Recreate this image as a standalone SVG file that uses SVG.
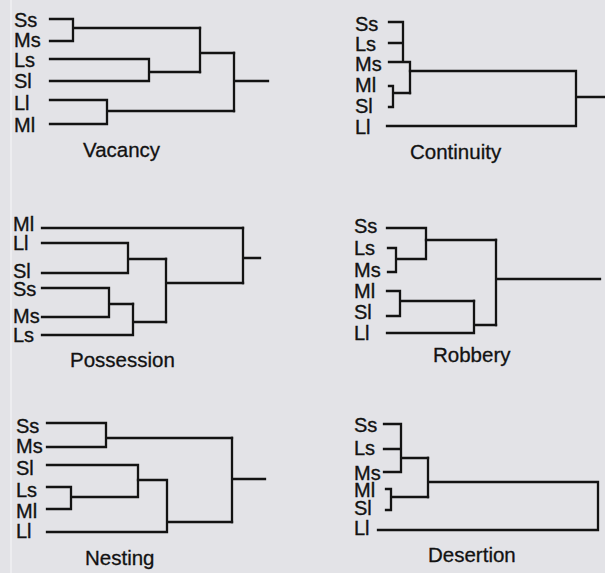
<svg xmlns="http://www.w3.org/2000/svg" width="605" height="573" viewBox="0 0 605 573">
  <style>
    .lbl { font-family: "Liberation Sans", Arial, sans-serif; font-size: 20px; fill: #121212; stroke: #121212; stroke-width: 0.35; }
    .ttl { font-family: "Liberation Sans", Arial, sans-serif; font-size: 20.5px; fill: #121212; stroke: #121212; stroke-width: 0.3; }
    .br { fill: none; stroke: #131313; stroke-width: 2.3; stroke-linecap: square; stroke-linejoin: miter; }
  </style>
  <rect width="605" height="573" fill="#e3e3e7"/>
  <line x1="11" y1="0" x2="11" y2="573" stroke="#f1f1f3" stroke-width="1.5"/>

  <!-- Vacancy -->
  <g id="vacancy">
    <g class="labels">
      <text class="lbl" x="14" y="27">Ss</text>
      <text class="lbl" x="14" y="47">Ms</text>
      <text class="lbl" x="14" y="67">Ls</text>
      <text class="lbl" x="14" y="88">Sl</text>
      <text class="lbl" x="14" y="110">Ll</text>
      <text class="lbl" x="14" y="132">Ml</text>
    </g>
    <g class="connectors">
      <path class="br" d="M50,19 H73 V41 H50 M73,28 H200"/>
      <path class="br" d="M50,59 H149 V81 H50 M149,72 H200"/>
      <path class="br" d="M200,28 V72 M200,53 H234"/>
      <path class="br" d="M50,100 H107 V124 H50 M107,111 H234"/>
      <path class="br" d="M234,53 V111 M234,81 H268"/>
    </g>
    <text class="ttl" x="83" y="157">Vacancy</text>
  </g>

  <!-- Continuity -->
  <g id="continuity">
    <g class="labels">
      <text class="lbl" x="355" y="31">Ss</text>
      <text class="lbl" x="355" y="51">Ls</text>
      <text class="lbl" x="355" y="71">Ms</text>
      <text class="lbl" x="355" y="92">Ml</text>
      <text class="lbl" x="355" y="113">Sl</text>
      <text class="lbl" x="355" y="134">Ll</text>
    </g>
    <g class="connectors">
      <path class="br" d="M389,22 H403 V62 M389,43 H403 M389,62 H410 V93"/>
      <path class="br" d="M389,86 H393 V107 H389 M393,93 H410"/>
      <path class="br" d="M410,71 H576 M387,126 H576 M576,71 V126 M576,97 H605"/>
    </g>
    <text class="ttl" x="410" y="159">Continuity</text>
  </g>

  <!-- Possession -->
  <g id="possession">
    <g class="labels">
      <text class="lbl" x="13" y="231">Ml</text>
      <text class="lbl" x="13" y="250">Ll</text>
      <text class="lbl" x="13" y="278">Sl</text>
      <text class="lbl" x="13" y="296">Ss</text>
      <text class="lbl" x="13" y="323">Ms</text>
      <text class="lbl" x="13" y="342">Ls</text>
    </g>
    <g class="connectors">
      <path class="br" d="M42,228 H243"/>
      <path class="br" d="M42,243 H128 V273 H42 M128,259 H166"/>
      <path class="br" d="M42,288 H109 V317 H42 M109,304 H133"/>
      <path class="br" d="M42,335 H133 V304 M133,322 H166"/>
      <path class="br" d="M166,259 V322 M166,283 H243"/>
      <path class="br" d="M243,228 V283 M243,258 H260"/>
    </g>
    <text class="ttl" x="70" y="367">Possession</text>
  </g>

  <!-- Robbery -->
  <g id="robbery">
    <g class="labels">
      <text class="lbl" x="354" y="233">Ss</text>
      <text class="lbl" x="354" y="255">Ls</text>
      <text class="lbl" x="354" y="277">Ms</text>
      <text class="lbl" x="354" y="298">Ml</text>
      <text class="lbl" x="354" y="319">Sl</text>
      <text class="lbl" x="354" y="340">Ll</text>
    </g>
    <g class="connectors">
      <path class="br" d="M387,228 H426 V259 M388,248 H396 V272 H388 M396,259 H426"/>
      <path class="br" d="M426,240 H496"/>
      <path class="br" d="M387,291 H400 V316 H387 M400,301 H474"/>
      <path class="br" d="M387,333 H474 V301 M474,325 H496"/>
      <path class="br" d="M496,240 V325 M496,279 H600"/>
    </g>
    <text class="ttl" x="433" y="362">Robbery</text>
  </g>

  <!-- Nesting -->
  <g id="nesting">
    <g class="labels">
      <text class="lbl" x="16" y="433">Ss</text>
      <text class="lbl" x="16" y="453">Ms</text>
      <text class="lbl" x="16" y="475">Sl</text>
      <text class="lbl" x="16" y="497">Ls</text>
      <text class="lbl" x="16" y="518">Ml</text>
      <text class="lbl" x="16" y="538">Ll</text>
    </g>
    <g class="connectors">
      <path class="br" d="M47,423 H106 V447 H47 M106,438 H232"/>
      <path class="br" d="M47,465 H138 V497 M47,487 H71 V509 H47 M71,497 H138"/>
      <path class="br" d="M138,480 H167 V532 H47 M167,522 H232"/>
      <path class="br" d="M232,438 V522 M232,479 H265"/>
    </g>
    <text class="ttl" x="85" y="565">Nesting</text>
  </g>

  <!-- Desertion -->
  <g id="desertion">
    <g class="labels">
      <text class="lbl" x="354" y="432">Ss</text>
      <text class="lbl" x="354" y="455">Ls</text>
      <text class="lbl" x="354" y="480">Ms</text>
      <text class="lbl" x="354" y="497">Ml</text>
      <text class="lbl" x="354" y="515">Sl</text>
      <text class="lbl" x="354" y="535">Ll</text>
    </g>
    <g class="connectors">
      <path class="br" d="M384,424 H401 V472 H384 M384,449 H401 M401,458 H428"/>
      <path class="br" d="M386,489 H391 V510 H386 M391,497 H428"/>
      <path class="br" d="M428,458 V497 M428,482 H598 V530 H378"/>
    </g>
    <text class="ttl" x="428" y="562">Desertion</text>
  </g>
</svg>
